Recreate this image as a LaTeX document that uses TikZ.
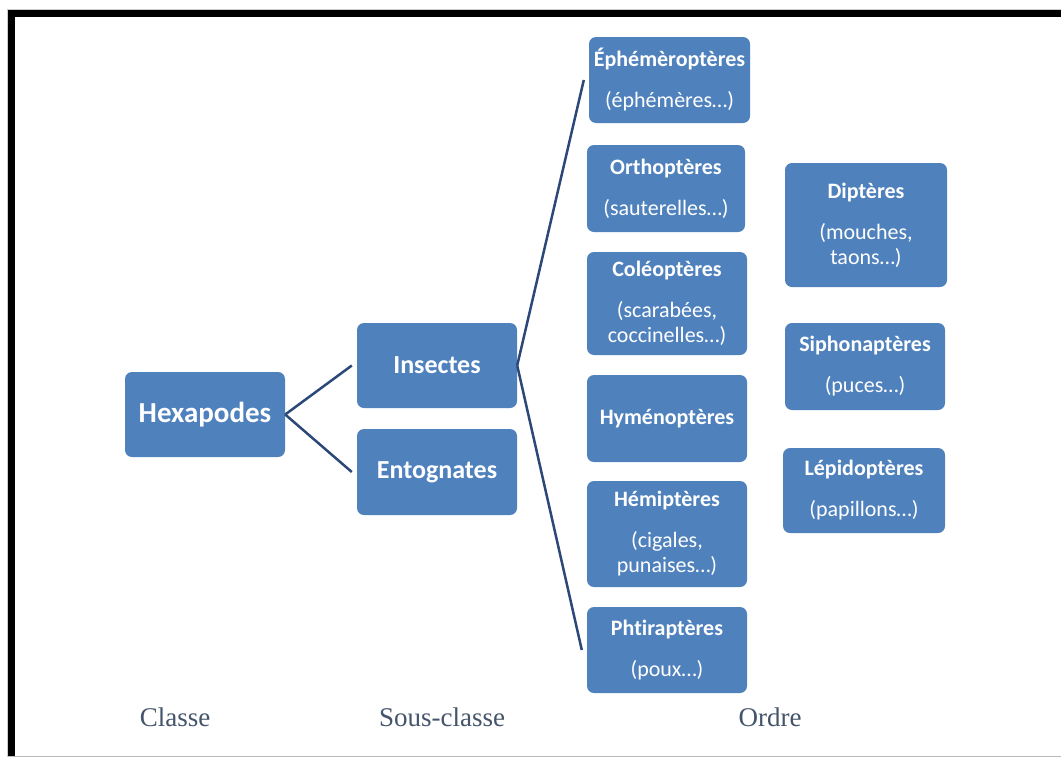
\documentclass[tikz,border=0pt]{standalone}
\usepackage{fontspec}
\setmainfont{Carlito}[Ligatures=NoCommon]
\newfontfamily\labfont{Liberation Serif}
\definecolor{boxblue}{RGB}{79,129,189}
\definecolor{linecol}{RGB}{44,72,120}
\definecolor{labcol}{RGB}{68,84,106}
\tikzset{
  bx/.style={fill=boxblue, rounded corners=7pt, text=white, align=center, inner sep=0pt},
  big/.style={bx, font=\fontsize{29}{34}\selectfont\bfseries},
  mid/.style={bx, font=\fontsize{26}{30}\selectfont\bfseries},
  ord/.style={bx, font=\fontsize{22}{25}\selectfont},
  conn/.style={draw=linecol, line width=2.5pt},
  lab/.style={text=labcol, inner sep=0pt, font=\labfont\fontsize{27}{30}\selectfont}
}
\begin{document}
\begin{tikzpicture}[x=1pt,y=-1pt]
% page and frame
\fill[white] (0,0) rectangle (1061,758);
\useasboundingbox (0,0) rectangle (1061,758);
\fill[black] (8,10) rectangle (1061,17);
\fill[black] (8,10) rectangle (15,756);
\draw[gray!55, line width=1pt] (8,756.5) -- (1061,756.5);
\draw[gray!40, line width=0.8pt] (7,9.4) -- (1061,9.4);
\draw[gray!40, line width=0.8pt] (7.4,9) -- (7.4,757);

% class
\node[big, minimum width=160pt, minimum height=85pt] (hex) at (205,414.5) {Hexapodes};
% sub-classes
\node[mid, minimum width=160pt, minimum height=85pt] (ins) at (437,365.5) {Insectes};
\node[mid, minimum width=160pt, minimum height=86pt] (ent) at (437,472) {Entognates};
% orders, first column
\node[ord, minimum width=161pt, minimum height=86pt] (eph) at (669.5,80) {\textbf{Éphémèroptères}\\[16pt](éphémères…)};
\node[ord, minimum width=158pt, minimum height=87pt] (ort) at (666,188.5) {\textbf{Orthoptères}\\[16pt](sauterelles…)};
\node[ord, minimum width=160pt, minimum height=103pt] (col) at (667,303.5) {\textbf{Coléoptères}\\[16pt](scarabées,\\coccinelles…)};
\node[ord, minimum width=160pt, minimum height=87pt] (hym) at (667,418.5) {\textbf{Hyménoptères}};
\node[ord, minimum width=160pt, minimum height=106pt] (hem) at (667,534) {\textbf{Hémiptères}\\[16pt](cigales,\\punaises…)};
\node[ord, minimum width=160pt, minimum height=86pt] (pht) at (667,650) {\textbf{Phtiraptères}\\[16pt](poux…)};
% orders, second column
\node[ord, minimum width=162pt, minimum height=124pt] (dip) at (866,225) {\textbf{Diptères}\\[16pt](mouches,\\taons…)};
\node[ord, minimum width=160pt, minimum height=87pt] (sip) at (865,366.5) {\textbf{Siphonaptères}\\[16pt](puces…)};
\node[ord, minimum width=162pt, minimum height=85pt] (lep) at (864,490.5) {\textbf{Lépidoptères}\\[16pt](papillons…)};

% connectors
\draw[conn] (hex.east) -- ([xshift=-5pt]ins.west);
\draw[conn] (hex.east) -- ([xshift=-5pt]ent.west);
\draw[conn] (ins.east) -- ([xshift=-5pt]eph.west);
\draw[conn] (ins.east) -- ([xshift=-5pt]pht.west);

% level labels
\node[lab] (lclasse) at (175,717) {Classe};
\node[lab] (lsous) at (442,717) {Sous-classe};
\node[lab] (lordre) at (770,717) {Ordre};
\end{tikzpicture}
\end{document}
